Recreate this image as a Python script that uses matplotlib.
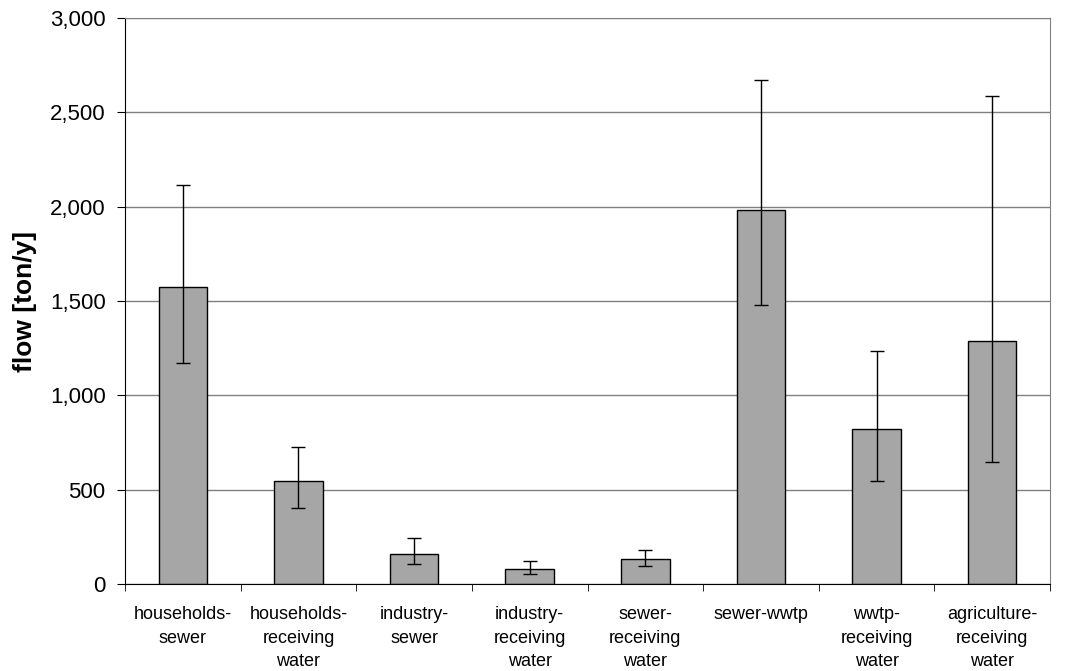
import matplotlib
matplotlib.use("Agg")
import matplotlib.pyplot as plt
from matplotlib.ticker import FuncFormatter, FixedLocator
import numpy as np

plt.rcParams['font.family'] = ['Liberation Sans', 'DejaVu Sans']

# data (ton/y)
categories = ['households-\nsewer', 'households-\nreceiving\nwater', 'industry-\nsewer',
              'industry-\nreceiving\nwater', 'sewer-\nreceiving\nwater', 'sewer-wwtp',
              'wwtp-\nreceiving\nwater', 'agriculture-\nreceiving\nwater']
flow = [1575, 545, 158, 82, 134, 1983, 824, 1288]
err_high = [2117, 724, 242, 120, 180, 2670, 1234, 2586]
err_low = [1170, 401, 106, 52, 98, 1477, 544, 649]

x = np.arange(len(categories))
yerr = [np.array(flow) - np.array(err_low), np.array(err_high) - np.array(flow)]

fig = plt.figure(figsize=(10.75, 6.71), dpi=100)
ax = fig.add_axes([125/1075, 1 - 584/671, (1050-125)/1075, (584-18)/671])

ax.bar(x, flow, width=0.42, color='#a6a6a6', edgecolor='black', linewidth=1.0, zorder=2)
ax.errorbar(x, flow, yerr=yerr, fmt='none', ecolor='black', elinewidth=1.0,
            capsize=5, capthick=1.0, zorder=3)

ax.set_xlim(-0.5, len(categories) - 0.5)
ax.set_ylim(0, 3000)
ax.set_yticks(np.arange(0, 3001, 500))
ax.yaxis.set_major_formatter(FuncFormatter(lambda v, p: f'{int(v):,}'))
ax.grid(axis='y', color='#808080', linewidth=1.0, zorder=0)
ax.set_axisbelow(True)

# category labels centred, ticks between categories
ax.set_xticks(x)
ax.set_xticklabels(categories, fontsize=13, linespacing=1.5)
ax.tick_params(axis='x', which='major', length=0, pad=16)
ax.xaxis.set_minor_locator(FixedLocator(np.arange(-0.5, len(categories), 1)))
ax.tick_params(axis='x', which='minor', length=5, direction='out', color='black')
ax.tick_params(axis='y', length=6, direction='out', labelsize=16, pad=8, color='black')

for s in ['top', 'right']:
    ax.spines[s].set_color('#808080')
ax.spines['left'].set_color('black')
ax.spines['bottom'].set_color('black')

ax.set_ylabel('flow [ton/y]', fontsize=19, fontweight='bold')
ax.yaxis.set_label_coords(-0.095, 0.5)

fig.savefig('out.png', dpi=100)
